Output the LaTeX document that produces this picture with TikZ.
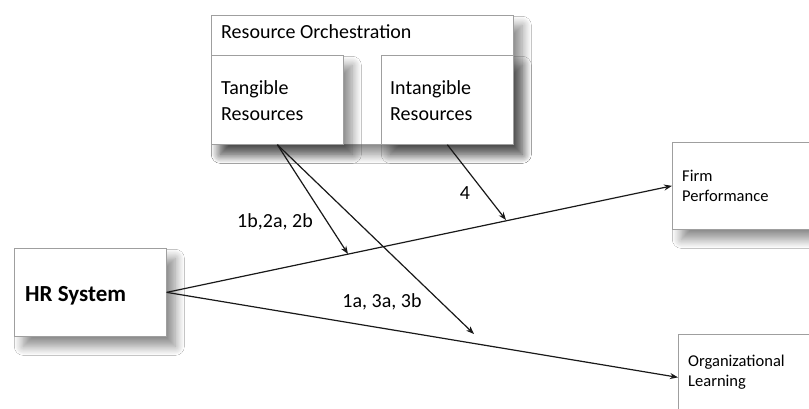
\documentclass[tikz,border=0pt]{standalone}
\usepackage{fontspec}
\setmainfont{Carlito}
\usetikzlibrary{shadows.blur,arrows.meta}
\tikzset{
  box/.style={draw=gray!75, line width=0.7pt, fill=white, rectangle, inner sep=0pt,
    anchor=north west,
    blur shadow={shadow xshift=9pt, shadow yshift=-10pt, shadow blur radius=9pt,
      shadow blur steps=12, shadow opacity=45}},
  lbl/.style={text=black, inner sep=0pt, anchor=west, align=left},
  big/.style={lbl, font=\fontsize{20}{26}\selectfont},
  small/.style={lbl, font=\fontsize{16.5}{19.5}\selectfont},
  arr/.style={draw=black!90, line width=1.2pt, -{Stealth[length=8pt,width=6pt]}},
}
\begin{document}
\begin{tikzpicture}[x=1pt,y=-1pt]
\clip (0,0) rectangle (809,408);
\fill[white] (0,0) rectangle (809,408);
% boxes
\node[box, minimum width=302pt, minimum height=129pt] (ro) at (211,15) {};
\node[box, minimum width=132pt, minimum height=89pt] (tan) at (211,55) {};
\node[box, minimum width=132pt, minimum height=89pt] (int) at (381,55) {};
\node[box, minimum width=152pt, minimum height=88pt] (hr) at (14,248) {};
\node[box, minimum width=160pt, minimum height=87pt] (firm) at (672,142) {};
\node[box, minimum width=160pt, minimum height=86pt] (org) at (678,334) {};
% texts
\node[big] (rot) at (221,32) {Resource Orchestration};
\node[big] (tant) at (221,101) {Tangible\\Resources};
\node[big] (intt) at (390,101) {Intangible\\Resources};
\node[lbl, font=\bfseries\fontsize{23}{28}\selectfont] (hrt) at (25,296) {HR System};
\node[small] (firmt) at (682,186) {Firm\\Performance};
\node[small] (orgt) at (688,372) {Organizational\\Learning};
% connector endpoints
\coordinate (p1) at (348,254);
\coordinate (p2) at (474,334);
\coordinate (p3) at (506,220);
% connectors
\draw[arr] (hr.east) -- (firm.west);
\draw[arr] (hr.east) -- (org.west);
\draw[arr] (tan.south) -- (p1);
\draw[arr] (tan.south) -- (p2);
\draw[arr] (int.south) -- (p3);
% labels
\node[lbl, font=\fontsize{20}{24}\selectfont, anchor=center] (l1) at (275,222) {1b,2a, 2b};
\node[lbl, font=\fontsize{20}{24}\selectfont, anchor=center] (l2) at (382,302) {1a, 3a, 3b};
\node[lbl, font=\fontsize{20}{24}\selectfont, anchor=center] (l3) at (465,193) {4};
\end{tikzpicture}
\end{document}
